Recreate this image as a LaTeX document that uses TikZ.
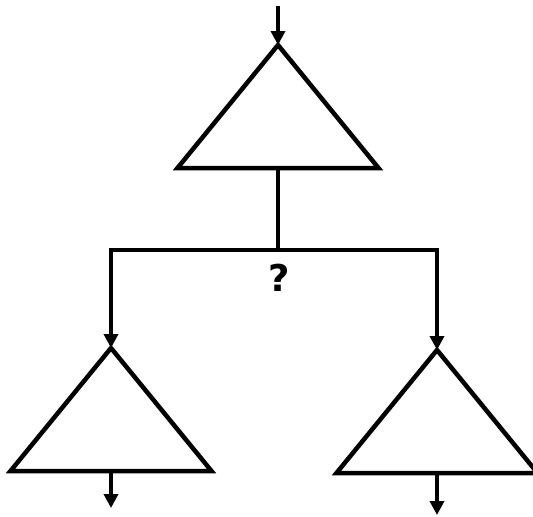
\documentclass[tikz,border=0pt]{standalone}
\usepackage{fontspec}
\setsansfont{DejaVu Sans}
\usetikzlibrary{positioning,shapes.geometric,arrows.meta}

\begin{document}
\begin{tikzpicture}[
    line width=0.09cm,
    tri/.style={draw, isosceles triangle, isosceles triangle stretches, shape border rotate=90,
                minimum width=4.02cm, minimum height=2.46cm, inner sep=0pt, outer sep=0pt, anchor=apex},
    flow/.style={-{Triangle[length=0.28cm, width=0.28cm]}}
  ]
    \useasboundingbox (0,0) rectangle (10.66,-10.32);
    % decision tree
    \node[tri] (top) at (5.56,-0.9) {};
    \node[tri] (lt) at (2.22,-6.96) {};
    \node[tri] (rt) at (8.74,-7.0) {};
    \coordinate (in) at (5.56,-0.12);
    \coordinate (split) at (5.56,-5.0);
    \coordinate (outl) at (2.22,-10.16);
    \coordinate (outr) at (8.74,-10.3);
    \draw[flow] (in)--(top.apex);
    \draw (top.south)--(split);
    \draw[flow] (split)-|(lt.apex);
    \draw[flow] (split)-|(rt.apex);
    \draw[flow] (lt.south)--(outl);
    \draw[flow] (rt.south)--(outr);
    \node[font=\sffamily\bfseries\fontsize{21}{25}\selectfont] (q) at (5.58,-5.56) {?};
  \end{tikzpicture}
\end{document}
